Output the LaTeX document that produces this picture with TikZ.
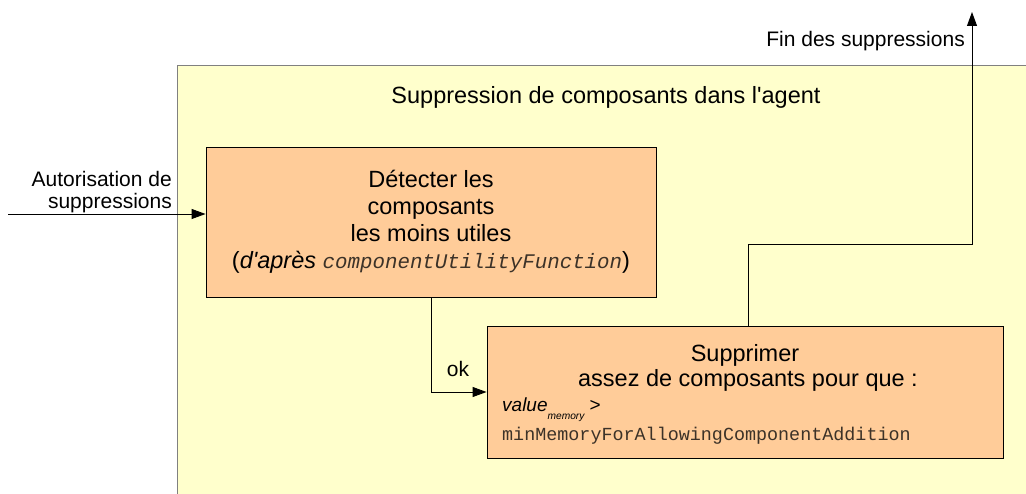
\documentclass[tikz,border=0pt]{standalone}
\usepackage{fontspec}
\setmainfont{Liberation Sans}
\setmonofont{Liberation Mono}
\usetikzlibrary{arrows.meta,positioning}
\definecolor{agentfill}{RGB}{255,255,204}
\definecolor{taskfill}{RGB}{255,204,153}
\definecolor{framegray}{RGB}{128,128,128}
\definecolor{codegray}{RGB}{60,50,40}
\tikzset{
  taskbox/.style={draw=black,fill=taskfill,line width=0.9pt,inner sep=0pt},
  flow/.style={draw=black,line width=0.9pt,-{Triangle[length=14pt,width=10pt]}},
  lbl/.style={inner sep=0pt,font=\fontsize{21}{22}\selectfont},
}
\begin{document}
\begin{tikzpicture}[x=1pt,y=1pt,yscale=-1,xscale=1]
\useasboundingbox (0,0) rectangle (1026,494);
%Shape: Rectangle [agent]
\fill[agentfill] (177,65) rectangle (1026,494);
\draw[framegray,line width=0.9pt] (177,494) -- (177,65) -- (1026,65);
\node[anchor=base,inner sep=0pt,font=\fontsize{23.5}{27}\selectfont] (agent) at (606,104) {Suppression de composants dans l\textquotesingle agent};
%Shape: Rectangle [detect]
\node[taskbox,minimum width=450pt,minimum height=150pt,align=center,font=\fontsize{23.5}{27}\selectfont] (detect) at (431,222)
  {Détecter les\\composants\\les moins utiles\\(\textit{d\textquotesingle après} {\fontsize{20.8}{27}\selectfont\ttfamily\itshape\color{codegray}componentUtilityFunction})};
%Shape: Rectangle [remove]
\node[taskbox,minimum width=516pt,minimum height=132pt] (remove) at (745,392) {};
\node[anchor=base,inner sep=0pt,font=\fontsize{23.5}{27}\selectfont] (remove1) at (745,362) {Supprimer};
\node[anchor=base,inner sep=0pt,font=\fontsize{23.5}{27}\selectfont] (remove2) at (748,387) {assez de composants pour que :};
\node[anchor=base west,inner sep=0pt,font=\fontsize{19}{22}\selectfont] (remove3) at (502,412)
  {\textit{value}\raisebox{-8pt}{\fontsize{10.2}{11}\selectfont\itshape memory} >};
\node[anchor=base west,inner sep=0pt,text=codegray,font=\fontsize{18.4}{22}\selectfont\ttfamily] (remove4) at (502,440) {minMemoryForAllowingComponentAddition};
%Straight Lines
\coordinate (start) at (8,214);
\coordinate (stop) at (972,12);
\draw[flow] (start) -- (start -| detect.west);
\draw[flow] (detect.south) |- (remove.west);
\draw[flow] ([xshift=3pt]remove.north) -- ++(0,-81) -| (stop);
%Labels
\node[lbl,anchor=base east] (authlbl) at (172,187) {Autorisation de};
\node[lbl,anchor=base east] (authlbl2) at (172,209) {suppressions};
\node[lbl,anchor=base east] (endlbl) at (965,47) {Fin des suppressions};
\node[lbl,anchor=base] (oklbl) at (458,377) {ok};
\end{tikzpicture}
\end{document}
